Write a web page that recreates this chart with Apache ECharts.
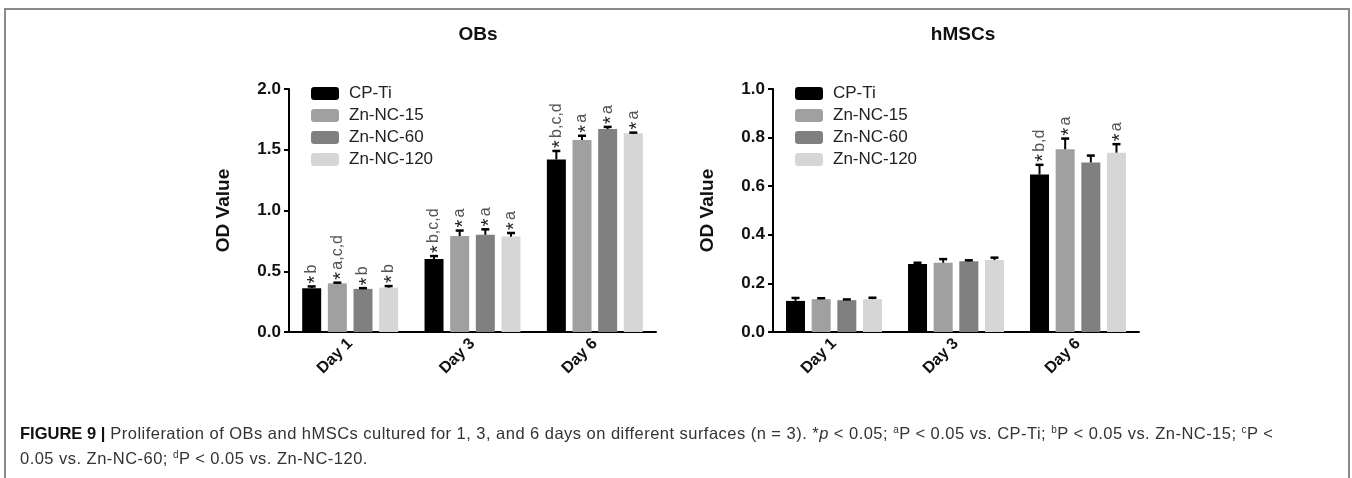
<!DOCTYPE html>
<html lang="en">
  <head>
    <meta charset="utf-8" />
    <title>Figure 9 - OBs / hMSCs proliferation</title>
    <script src="https://cdn.jsdelivr.net/npm/echarts@6/dist/echarts.min.js"></script>
    <style>
      * { margin: 0; padding: 0; }
      html, body { width: 1352px; height: 478px; overflow: hidden; background: #fff; }
      #frame {
        position: absolute; left: 4px; top: 8px; width: 1342px; height: 500px;
        border: 2px solid #8a8a8a; border-bottom: none;
      }
      #main { position: absolute; left: 0; top: 0; width: 1352px; height: 478px; }
      #cap {
        position: absolute; left: 20px; top: 421px; width: 1320px;
        font-family: "Liberation Sans", Arial, sans-serif; font-size: 16.5px;
        letter-spacing: 0.47px; line-height: 25px; color: #333; white-space: nowrap;
      }
      #cap b { color: #111; letter-spacing: 0; }
      #cap sup { font-size: 10px; vertical-align: 6px; line-height: 0; }
    </style>
  </head>
  <body>
    <div id="frame"></div>
    <div id="main"></div>
    <div id="cap"><b>FIGURE 9 |</b> Proliferation of OBs and hMSCs cultured for 1, 3, and 6 days on different surfaces (n = 3). *<i>p</i> &lt; 0.05; <sup>a</sup>P &lt; 0.05 vs. CP-Ti; <sup>b</sup>P &lt; 0.05 vs. Zn-NC-15; <sup>c</sup>P &lt;<br>0.05 vs. Zn-NC-60; <sup>d</sup>P &lt; 0.05 vs. Zn-NC-120.</div>
    <script type="text/javascript">
      // categories and groups
      const days = ['Day 1', 'Day 3', 'Day 6'];
      const groups = ['CP-Ti', 'Zn-NC-15', 'Zn-NC-60', 'Zn-NC-120'];
      const colors = ['#000000', '#a0a0a0', '#808080', '#d6d6d6'];

      // OBs (mean, SD, significance marks) per group, per day
      const obCP = [0.36, 0.60, 1.42];
      const obCPErr = [0.015, 0.025, 0.07];
      const ob15 = [0.40, 0.79, 1.58];
      const ob15Err = [0.006, 0.045, 0.035];
      const ob60 = [0.355, 0.80, 1.67];
      const ob60Err = [0.006, 0.045, 0.018];
      const ob120 = [0.365, 0.785, 1.635];
      const ob120Err = [0.013, 0.03, 0.006];
      const obNotes = [
        ['*b', '*b,c,d', '*b,c,d'],
        ['*a,c,d', '*a', '*a'],
        ['*b', '*a', '*a'],
        ['*b', '*a', '*a']
      ];
      const obTicks = [0, 0.5, 1.0, 1.5, 2.0];

      // hMSCs
      const hCP = [0.128, 0.280, 0.648];
      const hCPErr = [0.012, 0.005, 0.04];
      const h15 = [0.135, 0.285, 0.752];
      const h15Err = [0.004, 0.015, 0.044];
      const h60 = [0.131, 0.291, 0.698];
      const h60Err = [0.003, 0.004, 0.028];
      const h120 = [0.135, 0.296, 0.738];
      const h120Err = [0.006, 0.01, 0.035];
      const hNotes = [
        ['', '', '*b,d'],
        ['', '', '*a'],
        ['', '', ''],
        ['', '', '*a']
      ];
      const hTicks = [0, 0.2, 0.4, 0.6, 0.8, 1.0];

      const FONT = '"Liberation Sans", Arial, sans-serif';
      const BAR_W = 19, BAR_GAP = 0.35;

      const myChart = echarts.init(document.getElementById('main'));

      function barSeries(axis, means) {
        return means.map((vals, g) => ({
          name: groups[g],
          type: 'bar',
          xAxisIndex: axis,
          yAxisIndex: axis,
          barWidth: BAR_W,
          barGap: (BAR_GAP * 100) + '%',
          itemStyle: { color: colors[g] },
          data: vals
        }));
      }

      // error bars (upper half only) with the significance marks on top
      function errorSeries(axis, means, errs, notes) {
        const data = [];
        const texts = [];
        means.forEach((vals, g) => vals.forEach((m, c) => {
          data.push([c, m, errs[g][c], g]);
          texts.push(notes[g][c]);
        }));
        return {
          type: 'custom',
          xAxisIndex: axis,
          yAxisIndex: axis,
          z: 5,
          silent: true,
          data: data,
          renderItem: function (params, api) {
            const c = api.value(0), m = api.value(1), e = api.value(2), g = api.value(3);
            const dx = (g - 1.5) * BAR_W * (1 + BAR_GAP);
            const base = api.coord([c, m]);
            const top = api.coord([c, m + e]);
            const x = base[0] + dx;
            const kids = [
              { type: 'line', shape: { x1: x, y1: base[1], x2: x, y2: top[1] }, style: { stroke: '#000', lineWidth: 2 } },
              { type: 'line', shape: { x1: x - 4, y1: top[1], x2: x + 4, y2: top[1] }, style: { stroke: '#000', lineWidth: 2.5 } }
            ];
            const t = texts[params.dataIndex];
            if (t) {
              // rotated mark: star then letters, reading bottom to top
              kids.push({
                type: 'group',
                x: x,
                y: top[1] - 3,
                rotation: Math.PI / 2,
                children: [
                  { type: 'text', x: 0, y: 4, style: { text: '*', fontSize: 20, fontFamily: FONT, fill: '#222', align: 'left', verticalAlign: 'middle' } },
                  { type: 'text', x: 10, y: 0, style: { text: t.slice(1), fontSize: 16, fontFamily: FONT, fill: '#555', align: 'left', verticalAlign: 'middle' } }
                ]
              });
            }
            return { type: 'group', children: kids };
          }
        };
      }

      function xAxis(i) {
        return {
          type: 'category',
          gridIndex: i,
          data: days,
          axisLine: { lineStyle: { color: '#000', width: 2 } },
          axisTick: { alignWithLabel: true, length: 6, lineStyle: { color: '#000', width: 2 } },
          axisLabel: { rotate: 45, margin: 9, color: '#111', fontSize: 16, fontWeight: 'bold', fontFamily: FONT }
        };
      }

      function yAxis(i, ticks) {
        return {
          type: 'value',
          gridIndex: i,
          min: ticks[0],
          max: ticks[ticks.length - 1],
          interval: ticks[1] - ticks[0],
          name: 'OD Value',
          nameLocation: 'middle',
          nameGap: 56,
          nameTextStyle: { color: '#111', fontSize: 19, fontWeight: 'bold', fontFamily: FONT },
          splitLine: { show: false },
          axisLine: { show: true, lineStyle: { color: '#000', width: 2 } },
          axisTick: { show: true, length: 5, lineStyle: { color: '#000', width: 2 } },
          axisLabel: {
            margin: 8, color: '#111', fontSize: 17, fontWeight: 'bold', fontFamily: FONT,
            formatter: v => v.toFixed(1)
          }
        };
      }

      function legend(left) {
        return {
          data: groups,
          orient: 'vertical',
          left: left,
          top: 80,
          itemWidth: 28,
          itemHeight: 13,
          itemGap: 5,
          icon: 'roundRect',
          selectedMode: false,
          textStyle: { color: '#222', fontSize: 17, fontFamily: FONT, padding: [0, 0, 0, 5] }
        };
      }

      const option = {
        animation: false,
        title: [
          { text: 'OBs', left: 473, top: 20, textAlign: 'center', textStyle: { color: '#111', fontSize: 19, fontWeight: 'bold', fontFamily: FONT } },
          { text: 'hMSCs', left: 958, top: 20, textAlign: 'center', textStyle: { color: '#111', fontSize: 19, fontWeight: 'bold', fontFamily: FONT } }
        ],
        legend: [legend(306), legend(790)],
        grid: [
          { left: 289, top: 89, width: 367, height: 243 },
          { left: 773, top: 89, width: 366, height: 243 }
        ],
        xAxis: [xAxis(0), xAxis(1)],
        yAxis: [yAxis(0, obTicks), yAxis(1, hTicks)],
        series: [
          ...barSeries(0, [obCP, ob15, ob60, ob120]),
          ...barSeries(1, [hCP, h15, h60, h120]),
          errorSeries(0, [obCP, ob15, ob60, ob120], [obCPErr, ob15Err, ob60Err, ob120Err], obNotes),
          errorSeries(1, [hCP, h15, h60, h120], [hCPErr, h15Err, h60Err, h120Err], hNotes)
        ]
      };
      myChart.setOption(option);
    </script>
  </body>
</html>
